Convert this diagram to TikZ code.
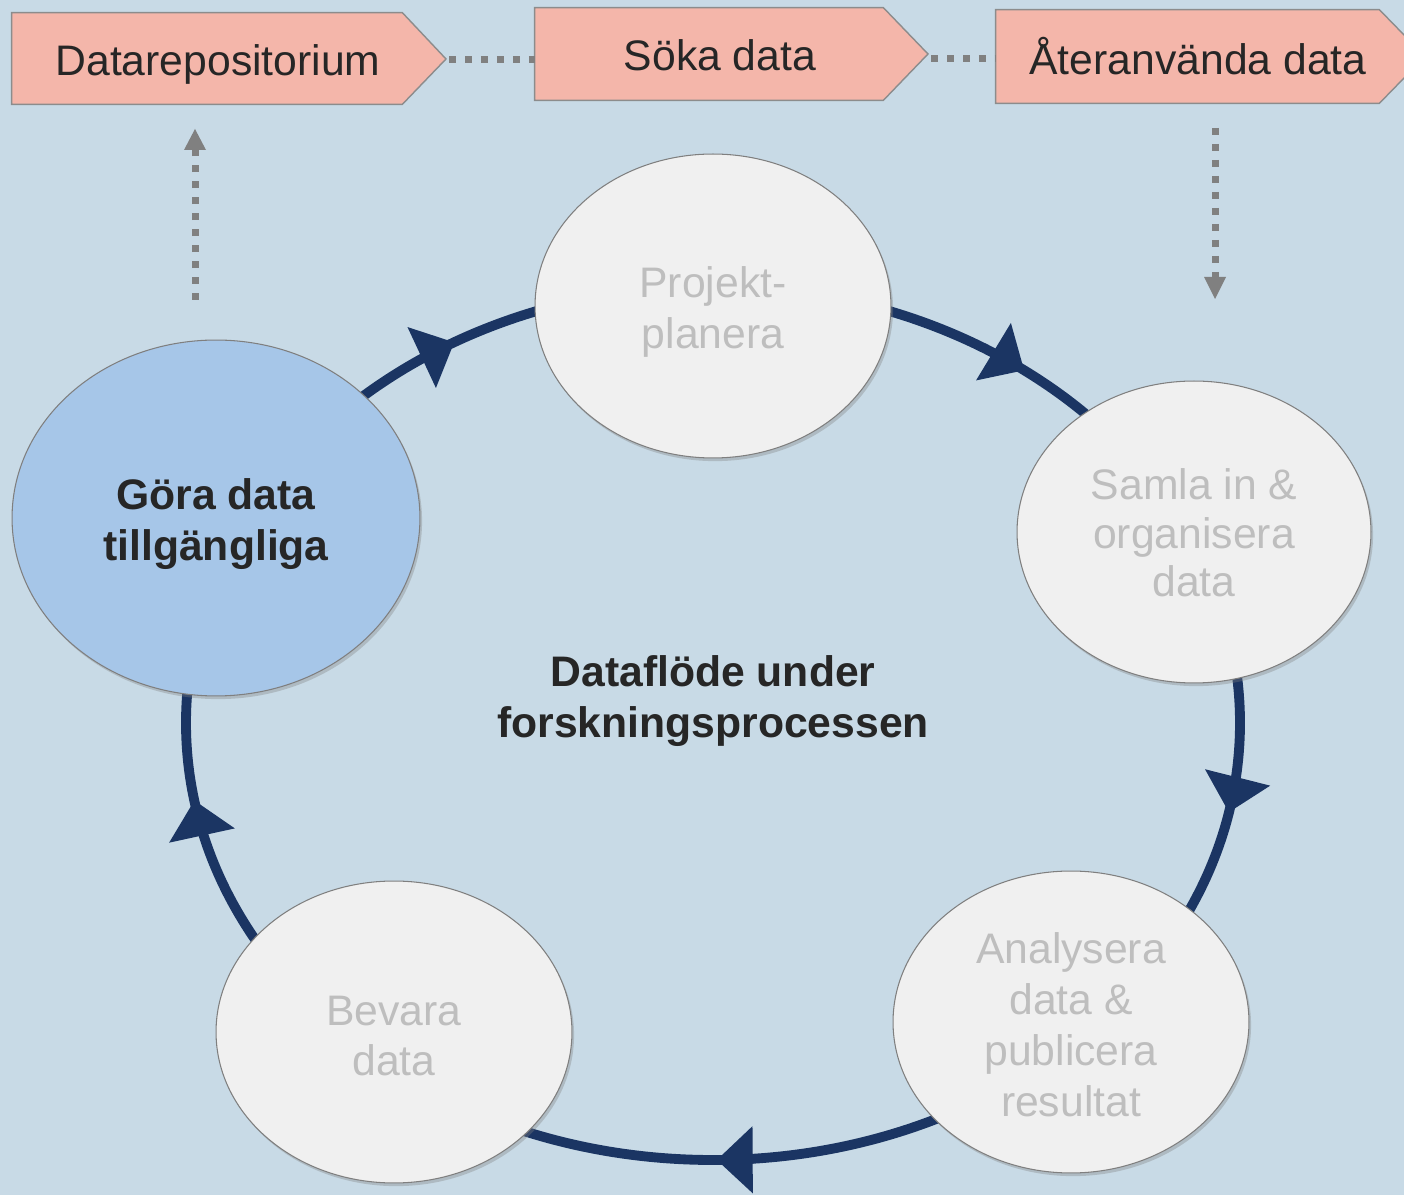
\documentclass[tikz,border=0pt]{standalone}
\usepackage{fontspec}
\setmainfont{Liberation Sans}
\usetikzlibrary{arrows.meta,shapes.geometric,shadows,calc}
\definecolor{bg}{HTML}{C8DAE6}
\definecolor{pentfill}{HTML}{F4B6AA}
\definecolor{pentline}{HTML}{8C8C8C}
\definecolor{ring}{HTML}{1B3563}
\definecolor{ellfill}{HTML}{F0F0F0}
\definecolor{ellline}{HTML}{7F7F7F}
\definecolor{gorafill}{HTML}{A6C6E8}
\definecolor{greytext}{HTML}{BEBEBE}
\definecolor{darktext}{HTML}{262626}
\definecolor{dotgrey}{HTML}{808080}
\begin{document}
\begin{tikzpicture}[x=0.02cm,y=-0.02cm,
  bigfont/.style={font=\fontsize{24.3pt}{29pt}\selectfont},
  pentbody/.style={draw=none,inner sep=0pt,minimum height=#1},
  pentshape/.style={fill=pentfill,draw=pentline,line width=0.8pt},
  penttext/.style={bigfont,text=darktext,inner sep=0pt},
  stage/.style={ellipse,draw=ellline,line width=0.6pt,fill=ellfill,inner sep=0pt,
    drop shadow={shadow xshift=1.2pt,shadow yshift=-1.8pt,opacity=0.35},
    bigfont,text=greytext,align=center},
  focus/.style={stage,fill=gorafill,text=darktext,font=\fontsize{24.3pt}{29pt}\selectfont\bfseries},
  dotline/.style={draw=dotgrey,line width=0.14cm,dash pattern=on 0.14cm off 0.18cm},
  ringline/.style={draw=ring,line width=5.6pt},
  ringtip/.style={ring,line width=5.6pt,-{Triangle[length=0.72cm,width=1.3cm]}}
]
\clip (0,0) rectangle (1404,1195);
\fill[bg] (0,0) rectangle (1404,1195);

% ring
\draw[ringline] (713,723) ellipse [x radius=527, y radius=437];
\foreach \s in {240.6,306.2,371.8,449.6,529.8}{
  \draw[ringtip] ($(713,723)+(\s-4:527 and 437)$) arc [start angle=\s-4, end angle=\s, x radius=527, y radius=437];
}

% top pentagons
\node[pentbody=91*0.02cm,minimum width=390*0.02cm] (p1) at (207,58.5) {};
\coordinate (p1tip) at (446,59);
\draw[pentshape] (p1.north west) -- (p1.north east) -- (p1tip) -- (p1.south east) -- (p1.south west) -- cycle;
\node[penttext] (t1) at (218,64) {Datarepositorium};

\node[pentbody=92*0.02cm,minimum width=348*0.02cm] (p2) at (709,54) {};
\coordinate (p2tip) at (928,54);
\draw[pentshape] (p2.north west) -- (p2.north east) -- (p2tip) -- (p2.south east) -- (p2.south west) -- cycle;
\node[penttext] (t2) at (720,55) {Söka data};

\node[pentbody=93*0.02cm,minimum width=383*0.02cm] (p3) at (1187.5,56.5) {};
\coordinate (p3tip) at (1425,56.5);
\draw[pentshape] (p3.north west) -- (p3.north east) -- (p3tip) -- (p3.south east) -- (p3.south west) -- cycle;
\node[penttext] (t3) at (1198,56) {Återanvända data};

% dotted connectors between pentagons
\coordinate (d1s) at (449,60);
\coordinate (d2s) at (931,58.5);
\draw[dotline] (d1s) -- (d1s -| p2.west);
\draw[dotline] (d2s) -- (d2s -| p3.west);

% vertical dotted arrows
\coordinate (upS) at (195,300);
\coordinate (upE) at (195,150);
\coordinate (upT) at (195,129);
\draw[dotline] (upS) -- (upE);
\fill[dotgrey] (upT) -- ($(upE)+(11,0)$) -- ($(upE)+(-11,0)$) -- cycle;

\coordinate (dnS) at (1215,128);
\coordinate (dnE) at (1215,277);
\coordinate (dnT) at (1215,299);
\draw[dotline] (dnS) -- (dnE);
\fill[dotgrey] (dnT) -- ($(dnE)+(11,0)$) -- ($(dnE)+(-11,0)$) -- cycle;

% stages
\node[stage,minimum width=7.12cm,minimum height=6.08cm] (proj) at (713,306) {};
\node[bigfont,text=greytext,align=center] (projt) at (713,312) {Projekt-\\planera};
\node[stage,minimum width=7.08cm,minimum height=6.04cm] (samla) at (1194,532) {};
\node[font=\fontsize{24.3pt}{27.6pt}\selectfont,text=greytext,align=center] (samlat) at (1194,533) {Samla in \&\\organisera\\data};
\node[stage,minimum width=7.12cm,minimum height=6.04cm] (anal) at (1071,1022) {};
\node[bigfont,text=greytext,align=center] (analt) at (1071,1025) {Analysera\\data \&\\publicera\\resultat};
\node[stage,minimum width=7.12cm,minimum height=6.04cm] (bev) at (394,1032) {};
\node[bigfont,text=greytext,align=center] (bevt) at (394,1036) {Bevara\\data};
\node[focus,minimum width=8.16cm,minimum height=7.12cm] (gora) at (216,518) {};
\node[text=darktext,font=\fontsize{24.3pt}{29pt}\selectfont\bfseries,align=center] (gorat) at (216,524) {Göra data\\tillgängliga};

% centre title
\node[font=\fontsize{24.3pt}{29pt}\selectfont\bfseries,text=darktext,align=center] (title) at (713,701) {Dataflöde under\\forskningsprocessen};
\end{tikzpicture}
\end{document}
